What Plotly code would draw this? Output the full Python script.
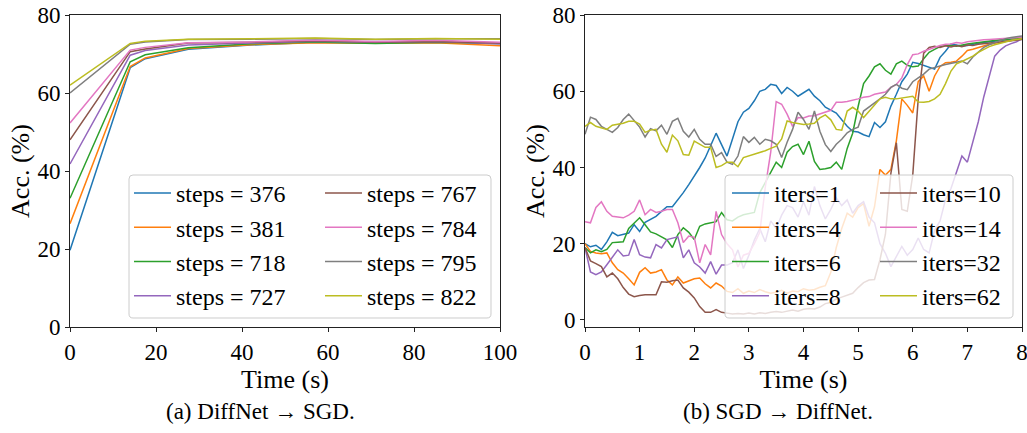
import plotly.graph_objects as go

W, H = 1027, 433

# ---------------- data: panel (a) DiffNet -> SGD ----------------
time_a = [0, 14, 17.5, 27.5, 42, 57, 71, 85, 100]
steps_labels = ["steps = 376", "steps = 381", "steps = 718", "steps = 727",
                "steps = 767", "steps = 784", "steps = 795", "steps = 822"]
acc_376 = [19.7, 66.5, 68.8, 71.2, 72.3, 73.0, 72.8, 73.0, 72.6]
acc_381 = [26.5, 66.8, 69.0, 71.4, 72.4, 72.9, 72.8, 72.9, 72.1]
acc_718 = [33.0, 68.0, 69.8, 71.6, 72.6, 73.1, 72.7, 73.0, 72.8]
acc_727 = [41.8, 69.7, 70.9, 72.3, 72.8, 73.3, 73.0, 73.2, 72.6]
acc_767 = [48.0, 70.6, 71.3, 72.8, 73.0, 73.4, 73.1, 73.2, 72.8]
acc_784 = [52.3, 71.0, 71.7, 72.9, 73.1, 73.6, 73.2, 73.5, 73.0]
acc_795 = [60.0, 72.5, 73.1, 73.7, 73.8, 74.0, 73.7, 73.9, 73.9]
acc_822 = [62.0, 72.7, 73.3, 73.8, 73.9, 74.1, 73.8, 74.0, 73.8]

# ---------------- data: panel (b) SGD -> DiffNet ----------------
time_b = [round(0.1 * i, 1) for i in range(81)]
iters_labels = ["iters=1", "iters=4", "iters=6", "iters=8",
                "iters=10", "iters=14", "iters=32", "iters=62"]
it_1 = [20.0, 19.2, 19.6, 18.5, 20.5, 23.0, 22.1, 22.4, 22.8, 25.0,
        23.2, 25.6, 26.3, 27.2, 28.5, 29.7, 29.7, 31.5, 33.4, 35.5,
        37.6, 40.0, 42.5, 46.0, 49.0, 46.0, 43.0, 47.5, 52.0, 54.5,
        55.5, 57.5, 60.0, 60.5, 61.8, 61.5, 59.4, 61.0, 60.0, 58.7,
        59.5, 60.5, 58.7, 57.5, 55.8, 55.0, 54.3, 52.5, 50.8, 49.5,
        49.3, 48.6, 48.1, 51.8, 50.5, 52.0, 56.1, 59.2, 62.5, 64.5,
        67.6, 67.3, 66.8, 66.2, 65.8, 68.9, 70.5, 72.4, 72.2, 71.9,
        72.0, 72.4, 72.6, 72.8, 73.0, 73.1, 73.3, 73.4, 73.6, 73.8, 74.0]
it_4 = [20.0, 18.0, 17.6, 17.4, 17.6, 15.0, 13.2, 12.3, 10.8, 9.2,
        12.5, 13.7, 12.3, 12.6, 13.2, 10.5, 9.2, 11.3, 9.7, 10.3,
        10.8, 11.0, 9.5, 8.4, 9.7, 8.9, 7.5, 7.2, 8.2, 7.0,
        7.6, 7.2, 8.0, 7.4, 7.0, 7.3, 7.8, 7.0, 7.6, 7.4,
        8.2, 7.8, 8.0, 8.6, 9.0, 12.5, 19.0, 24.0, 28.0, 27.0,
        29.5, 30.5, 24.6, 29.7, 39.5, 38.0, 39.5, 47.0, 58.0, 56.3,
        54.3, 62.5, 64.0, 60.0, 64.0, 66.5, 67.5, 67.6, 67.9, 69.2,
        70.7, 71.0, 71.5, 72.0, 72.3, 72.6, 72.9, 73.1, 73.4, 73.6, 73.8]
it_6 = [19.0, 17.6, 18.4, 17.9, 18.5, 20.3, 20.4, 20.5, 24.0, 25.5,
        26.8, 25.0, 23.1, 22.6, 21.8, 21.0, 19.0, 22.4, 24.2, 23.0,
        21.1, 24.6, 25.2, 25.6, 25.8, 28.2, 26.3, 26.0, 27.0, 27.6,
        28.0, 28.2, 33.4, 36.0, 38.7, 41.4, 40.0, 44.0, 45.5, 46.1,
        43.4, 46.9, 41.6, 39.5, 39.7, 40.0, 41.4, 39.5, 45.0, 49.0,
        56.0, 62.0, 64.0, 66.4, 67.2, 65.5, 64.5, 67.2, 67.9, 66.8,
        66.4, 66.6, 68.5, 70.2, 71.0, 71.7, 72.0, 72.0, 71.8, 72.2,
        72.4, 72.6, 72.8, 73.0, 73.2, 73.3, 73.5, 73.6, 73.8, 73.9, 74.1]
it_8 = [19.0, 12.6, 11.9, 12.6, 14.5, 16.3, 18.4, 16.8, 17.0, 21.1,
        17.1, 16.5, 16.3, 19.8, 18.9, 21.1, 21.5, 21.8, 16.3, 18.4,
        15.0, 13.9, 12.3, 15.3, 12.0, 14.4, 14.4, 15.0, 18.4, 13.5,
        17.0, 21.0, 24.0, 20.5, 26.0, 24.0, 27.5, 30.0, 29.5, 27.0,
        31.0, 27.5, 35.0, 30.0, 26.5, 29.0, 32.0, 30.0, 31.5, 28.0,
        30.0, 31.0, 27.0, 25.5, 20.0, 17.5, 14.0, 16.5, 19.3, 17.0,
        18.5, 21.5, 18.5, 17.6, 23.5, 26.0, 31.6, 34.5, 38.5, 43.0,
        41.4, 47.0, 52.0, 58.5, 64.0, 69.2, 70.8, 71.9, 72.5, 73.0, 73.8]
it_10 = [19.0, 15.5, 14.8, 14.0, 11.3, 12.3, 10.8, 8.5, 6.8, 6.1,
         6.4, 6.6, 6.6, 6.6, 10.0, 9.9, 10.3, 10.5, 8.4, 7.3,
         5.8, 3.5, 2.0, 2.0, 2.7, 2.0, 1.8, 1.6, 1.7, 1.6,
         1.8, 1.6, 1.9, 1.7, 2.0, 2.2, 2.0, 2.4, 2.6, 2.3,
         2.8, 3.0, 2.9, 3.4, 4.3, 4.6, 5.5, 6.0, 6.4, 7.0,
         8.5, 9.8, 10.5, 10.6, 15.8, 22.5, 38.5, 46.5, 29.0, 28.5,
         38.0, 58.0, 70.0, 71.5, 71.8, 71.5, 71.9, 71.6, 72.0, 71.7,
         72.1, 72.0, 72.3, 72.5, 72.6, 72.8, 72.9, 73.1, 73.3, 73.4, 73.6]
it_14 = [25.8, 25.5, 29.5, 31.0, 28.5, 27.2, 27.0, 26.8, 27.5, 28.5,
         31.5, 27.6, 29.0, 28.2, 28.5, 29.0, 29.0, 25.5, 20.3, 22.0,
         21.7, 15.0, 19.8, 17.1, 28.5, 22.4, 20.0, 18.4, 13.9, 17.0,
         17.5, 20.0, 23.0, 34.8, 44.0, 57.3, 56.6, 54.0, 50.8, 53.1,
         53.0, 53.5, 53.6, 54.0, 54.5, 55.0, 57.1, 57.1, 57.3, 57.6,
         58.0, 58.4, 58.6, 59.2, 59.6, 59.8, 61.0, 61.8, 63.5, 67.0,
         69.6, 69.8, 70.5, 71.0, 71.7, 72.0, 72.3, 72.4, 72.8, 72.6,
         73.0, 73.2, 73.3, 73.5, 73.6, 73.7, 73.8, 73.9, 74.0, 74.1, 74.2]
it_32 = [48.7, 53.2, 52.6, 50.8, 50.0, 49.2, 50.5, 52.6, 54.0, 52.3,
         50.6, 48.0, 50.2, 49.6, 51.1, 48.7, 52.1, 52.9, 49.5, 48.0,
         50.0, 47.4, 46.1, 46.1, 42.9, 43.9, 41.4, 40.8, 43.0, 48.1,
         46.6, 47.9, 46.1, 47.4, 47.0, 46.1, 42.6, 46.6, 50.0, 54.5,
         52.6, 50.0, 54.8, 49.5, 46.0, 44.2, 46.1, 47.4, 49.1, 50.0,
         50.6, 54.8, 55.8, 57.0, 58.0, 59.2, 61.0, 61.8, 60.8, 60.4,
         62.5, 63.5, 64.5, 65.8, 66.3, 66.6, 67.0, 67.4, 67.6, 67.9,
         67.2, 69.0, 70.2, 71.5, 72.2, 72.8, 73.4, 73.8, 74.1, 74.3, 74.5]
it_62 = [50.8, 51.8, 50.8, 50.4, 50.0, 51.1, 51.3, 51.6, 52.1, 52.1,
         51.4, 49.2, 49.8, 50.0, 46.1, 44.0, 48.5, 47.0, 43.4, 43.2,
         46.9, 46.1, 45.3, 45.3, 40.0, 40.5, 41.4, 41.4, 40.2, 42.6,
         43.0, 43.4, 43.9, 44.4, 45.0, 45.6, 47.5, 52.2, 51.8, 51.6,
         51.3, 51.4, 51.6, 53.0, 53.8, 52.5, 50.0, 49.8, 54.8, 55.8,
         54.8, 53.1, 54.8, 56.5, 58.0, 58.4, 58.0, 58.0, 58.2, 58.5,
         58.7, 57.2, 57.1, 57.3, 58.0, 59.2, 62.0, 65.3, 67.2, 67.8,
         68.4, 69.2, 70.2, 71.0, 71.7, 72.2, 72.6, 73.0, 73.3, 73.6, 73.8]

x_ticks_a = [0, 20, 40, 60, 80, 100]
x_ticks_b = [0, 1, 2, 3, 4, 5, 6, 7, 8]
y_ticks = [0, 20, 40, 60, 80]

COLORS = ["#1f77b4", "#ff7f0e", "#2ca02c", "#9467bd",
          "#8c564b", "#e377c2", "#7f7f7f", "#bcbd22"]
FONT = "Liberation Serif, Times New Roman, serif"

series_a = [acc_376, acc_381, acc_718, acc_727, acc_767, acc_784, acc_795, acc_822]
series_b = [it_1, it_4, it_6, it_8, it_10, it_14, it_32, it_62]

fig = go.Figure()
for i, (lab, ys) in enumerate(zip(steps_labels, series_a)):
    fig.add_trace(go.Scatter(
        x=time_a, y=ys, mode="lines", name=lab,
        line=dict(color=COLORS[i], width=1.5),
        xaxis="x", yaxis="y",
        legend="legend" if i < 4 else "legend2",
        legendgroup="a%d" % i))
for i, (lab, ys) in enumerate(zip(iters_labels, series_b)):
    fig.add_trace(go.Scatter(
        x=time_b, y=ys, mode="lines", name=lab,
        line=dict(color=COLORS[i], width=1.5),
        xaxis="x2", yaxis="y2",
        legend="legend3" if i < 4 else "legend4",
        legendgroup="b%d" % i))


def px_x(p):
    return p / W


def px_y(p):
    return 1 - p / H


axis_common = dict(
    showline=True, linecolor="#222", linewidth=1, mirror=True,
    ticks="outside", ticklen=4, tickwidth=1, tickcolor="#222",
    showgrid=False, zeroline=False, automargin=False,
    ticklabeloverflow="allow",
    tickfont=dict(family=FONT, size=23, color="black"),
)
title_font = dict(family=FONT, size=26, color="black")

ydom = [px_y(327), px_y(15)]
fig.update_layout(
    xaxis=dict(domain=[px_x(70), px_x(500)], range=[0, 100], tickvals=x_ticks_a,
               anchor="y", title=dict(text="Time (s)", font=title_font, standoff=6),
               **axis_common),
    yaxis=dict(domain=ydom, range=[0, 80], tickvals=y_ticks, anchor="x",
               title=dict(text="Acc. (%)", font=title_font, standoff=0), **axis_common),
    xaxis2=dict(domain=[px_x(585), px_x(1022)], range=[0, 8], tickvals=x_ticks_b,
                anchor="y2", title=dict(text="Time (s)", font=title_font, standoff=6),
                **axis_common),
    yaxis2=dict(domain=ydom, range=[-1.84, 80], tickvals=y_ticks, anchor="x2",
                title=dict(text="Acc. (%)", font=title_font, standoff=0), **axis_common),
)

leg_common = dict(bgcolor="rgba(0,0,0,0)", borderwidth=0, xanchor="left", yanchor="top",
                  font=dict(family=FONT, size=24, color="black"),
                  tracegroupgap=0, orientation="v", itemwidth=37)
leg_top = px_y(171)
fig.update_layout(
    legend=dict(x=px_x(129), y=leg_top, **leg_common),
    legend2=dict(x=px_x(320), y=leg_top, **leg_common),
    legend3=dict(x=px_x(727), y=leg_top, **leg_common),
    legend4=dict(x=px_x(875), y=leg_top, **leg_common),
)


def rounded_box(x0, y0, x1, y1, r=4):
    X = lambda p: "%.5f" % px_x(p)
    Y = lambda p: "%.5f" % px_y(p)
    return ("M %s,%s L %s,%s Q %s,%s %s,%s L %s,%s Q %s,%s %s,%s "
            "L %s,%s Q %s,%s %s,%s L %s,%s Q %s,%s %s,%s Z") % (
        X(x0 + r), Y(y0), X(x1 - r), Y(y0), X(x1), Y(y0), X(x1), Y(y0 + r),
        X(x1), Y(y1 - r), X(x1), Y(y1), X(x1 - r), Y(y1),
        X(x0 + r), Y(y1), X(x0), Y(y1), X(x0), Y(y1 - r),
        X(x0), Y(y0 + r), X(x0), Y(y0), X(x0 + r), Y(y0))


shapes = []
for (bx0, by0, bx1, by1) in [(129, 175, 491, 318), (725, 175, 1013, 318)]:
    shapes.append(dict(type="path", xref="paper", yref="paper",
                       path=rounded_box(bx0, by0, bx1, by1),
                       fillcolor="rgba(255,255,255,0.8)",
                       line=dict(color="#cccccc", width=1), layer="above"))

cap_font = dict(family=FONT, size=23, color="black")
annotations = [
    dict(text="(a) DiffNet \u2192 SGD.", x=px_x(260), y=px_y(411), xref="paper", yref="paper",
         showarrow=False, xanchor="center", yanchor="middle", font=cap_font),
    dict(text="(b) SGD \u2192 DiffNet.", x=px_x(778), y=px_y(411), xref="paper", yref="paper",
         showarrow=False, xanchor="center", yanchor="middle", font=cap_font),
]

fig.update_layout(
    width=W, height=H,
    margin=dict(l=0, r=0, t=0, b=0, autoexpand=False),
    paper_bgcolor="white", plot_bgcolor="white",
    shapes=shapes, annotations=annotations,
    showlegend=True,
)

fig.write_html("out.html",
               config={"displayModeBar": False},
               post_script="document.body.style.margin='0px';"
                           "document.body.style.overflow='hidden';")
